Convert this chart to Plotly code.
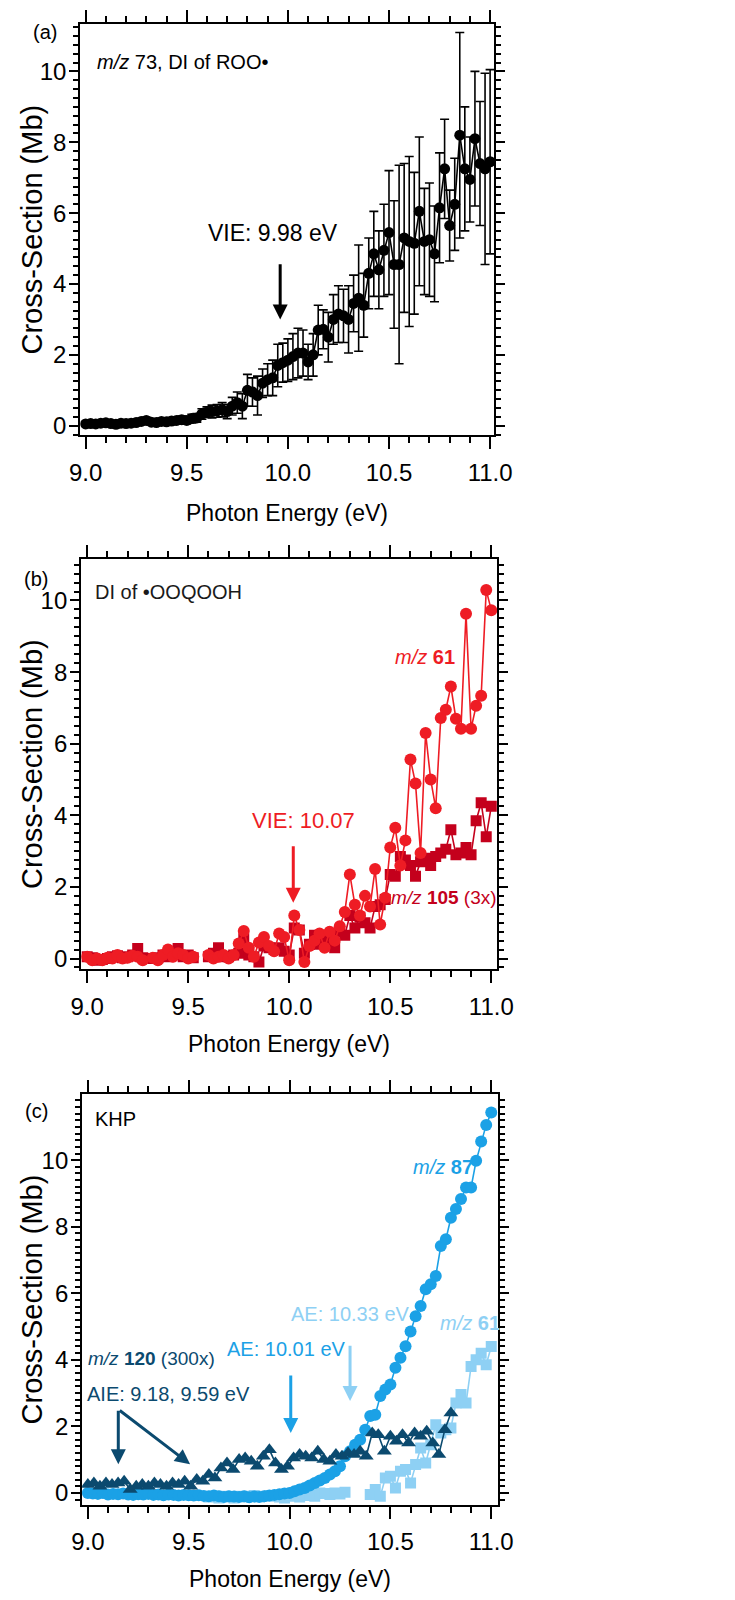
import numpy as np
import plotly.graph_objects as go

W, H = 735, 1600
FONT = "Liberation Sans, Arial, sans-serif"

# ---------------- data ----------------
# photon energy grid (eV), 0.025 eV scan step
energy = np.round(np.linspace(9.0, 11.0, 81), 3)

# (a) m/z 73, DI of ROO*
a_val = [0.05, 0.06, 0.05, 0.07, 0.08, 0.06, 0.04, 0.07, 0.06, 0.07,
         0.09, 0.12, 0.15, 0.10, 0.09, 0.12, 0.11, 0.13, 0.15, 0.17,
         0.15, 0.20, 0.22, 0.33, 0.38, 0.40, 0.42, 0.45, 0.40, 0.55,
         0.65, 0.55, 1.00, 0.95, 0.85, 1.20, 1.30, 1.35, 1.70, 1.78,
         1.85, 1.95, 2.05, 2.05, 1.80, 2.00, 2.70, 2.72, 2.50, 3.00,
         3.15, 3.10, 3.00, 3.45, 3.60, 3.40, 4.30, 4.85, 4.40, 4.95,
         5.45, 4.55, 4.55, 5.30, 5.20, 5.15, 6.05, 5.20, 5.25, 4.85,
         6.15, 7.25, 5.65, 6.25, 8.20, 7.25, 6.95, 8.10, 7.40, 7.25,
         7.45]
a_err = [0.06, 0.06, 0.06, 0.06, 0.07, 0.06, 0.06, 0.07, 0.07, 0.07,
         0.08, 0.08, 0.09, 0.08, 0.08, 0.09, 0.09, 0.10, 0.10, 0.10,
         0.10, 0.12, 0.12, 0.15, 0.15, 0.18, 0.18, 0.20, 0.20, 0.25,
         0.30, 0.35, 0.45, 0.40, 0.55, 0.40, 0.45, 0.50, 0.60, 0.55,
         0.60, 0.65, 0.70, 0.65, 0.50, 0.60, 0.70, 0.55, 0.70, 0.70,
         0.80, 0.75, 0.95, 0.80, 1.50, 0.90, 1.00, 1.20, 1.10, 1.30,
         1.75, 1.80, 2.80, 2.10, 2.40, 2.00, 2.10, 1.50, 1.60, 1.35,
         1.55, 1.40, 1.00, 1.30, 2.90, 1.75, 1.20, 1.90, 1.75, 2.70,
         2.60]

# (b) DI of *OOQOOH : m/z 61 and m/z 105 (3x)
b_m61 = [0.05, -0.05, 0.0, -0.05, 0.02, 0.0, 0.10, 0.0, 0.02, 0.08,
         0.05, -0.05, None, 0.02, -0.05, 0.10, 0.25, 0.05, 0.15, 0.10,
         0.0, 0.05, None, None, 0.10, 0.0, 0.05, 0.10, 0.0, 0.10,
         0.42, 0.77, 0.30, 0.05, 0.45, 0.60, 0.35, 0.20, 0.70, 0.60,
         -0.05, 1.20, 0.80, -0.10, 0.35, 0.50, 0.70, 0.30, 0.75, 0.50,
         0.90, 1.30, 2.35, 1.50, 1.20, 1.75, 1.45, 2.50, 0.95, 1.70,
         3.10, 3.65, 2.60, 3.30, 5.56, 4.89, 2.95, 6.30, 5.00, 4.20,
         6.72, 6.95, 7.60, 6.70, 6.42, 9.63, 6.42, 7.06, 7.34, 10.29,
         9.73]
b_m105 = [0.05, 0.02, -0.05, -0.03, 0.0, 0.05, 0.08, 0.02, 0.05, 0.10,
          0.28, 0.02, None, 0.0, 0.02, 0.10, 0.05, 0.15, 0.28, 0.05,
          0.10, 0.02, None, None, 0.05, 0.15, 0.30, 0.05, 0.05, 0.10,
          0.15, 0.55, 0.10, 0.05, -0.10, 0.35, 0.30, 0.25, 0.30, 0.20,
          0.10, 0.85, 0.80, 0.15, 0.40, 0.65, 0.40, 0.55, 0.45, 0.30,
          0.75, 0.65, 1.20, 0.85, 1.15, 1.00, 0.85, 1.45, 1.50, 1.65,
          2.35, 2.30, 2.85, 2.75, 2.60, 2.30, 2.70, 2.80, 2.60, 2.85,
          2.95, 3.05, 3.60, 2.90, 2.95, 3.10, 2.90, 3.85, 4.35, 3.40,
          4.25]

# (c) KHP : m/z 87, m/z 61, m/z 120 (300x)
c_m87 = [0.0, -0.02, -0.03, 0.0, -0.05, -0.03, -0.04, -0.02, -0.05, -0.06,
         -0.04, -0.05, -0.03, -0.06, -0.05, -0.07, -0.05, -0.06, -0.08, -0.06,
         -0.07, -0.08, -0.07, -0.09, -0.10, -0.08, -0.10, -0.12, -0.10, -0.11,
         -0.12, -0.10, -0.13, -0.11, -0.12, -0.10, -0.08, -0.06, -0.04, -0.02,
         0.0, 0.05, 0.10, 0.15, 0.22, 0.30, 0.37, 0.45, 0.55, 0.65,
         0.80, 1.10, 1.25, 1.45, 1.60, 1.90, 2.31, 2.35, 2.91, 3.11,
         3.26, 3.76, 4.06, 4.41, 4.85, 5.31, 5.62, 6.12, 6.27, 6.52,
         7.42, 7.62, 8.27, 8.53, 8.83, 9.18, 9.18, 9.98, 10.56, 11.06,
         11.43]
energy_c61 = np.round(np.linspace(9.6, 11.0, 57), 3)
c_m61 = [-0.12, -0.10, -0.15, -0.10, -0.12, -0.15, -0.10, -0.12, -0.10, -0.08,
         -0.12, -0.10, -0.08, -0.10, -0.12, -0.15, -0.10, -0.05, -0.12, -0.08,
         -0.05, -0.10, 0.0, -0.02, -0.05, 0.0, -0.03, 0.02,
         None, None, None, None,
         -0.05, 0.10, -0.10, 0.45, 0.50, 0.15, 0.65, 0.70, 0.30, 0.85,
         1.35, 0.90, 1.45, 2.05, 1.80, 1.90, 1.95, 2.70, 2.96, 2.70,
         3.80, 4.00, 4.20, 3.85, 4.40]
energy_c120 = np.round(np.linspace(9.0, 10.8, 61), 3)
c_m120 = [0.25, 0.30, 0.20, 0.30, 0.25, 0.30, 0.35, 0.10, 0.20, 0.25,
          0.20, 0.30, 0.25, 0.20, 0.30, 0.25, 0.35, 0.20, 0.40, 0.35,
          0.55, 0.45, 0.75, 0.90, 0.70, 1.00, 1.05, 0.95, 0.80, 1.10,
          1.30, 0.90, 0.70, 0.80, 1.05, 1.15, 1.10, 1.05, 1.25, 1.00,
          0.95, 1.15, 1.10, 1.20, 1.15, 1.25, 1.10, 1.80, 1.75, 1.25,
          1.70, 1.55, 1.75, 1.50, 1.80, 1.70, 1.85, 1.50, 1.15, 1.90,
          2.40]

# ---------------- colours ----------------
BLACK = "#000000"
RED = "#ee1c24"
DARKRED = "#c4001c"
BLUE = "#1ba1e6"
LIGHTBLUE = "#8ed0f4"
NAVY = "#0b4a6f"

fig = go.Figure()

def add(x, y, xa, ya, color, symbol, size, err=None):
    tr = go.Scatter(x=x, y=y, mode="lines+markers", xaxis=xa, yaxis=ya,
                    line=dict(color=color, width=1.6),
                    marker=dict(symbol=symbol, size=size, color=color, line=dict(width=0)),
                    connectgaps=False, showlegend=False, hoverinfo="skip")
    if err is not None:
        tr.error_y = dict(type="data", array=err, color=color, thickness=1.6, width=4.5)
    fig.add_trace(tr)

add(energy, a_val, "x", "y", BLACK, "circle", 11, a_err)
add(energy, b_m105, "x2", "y2", DARKRED, "square", 11)
add(energy, b_m61, "x2", "y2", RED, "circle", 12)
add(energy_c61, c_m61, "x3", "y3", LIGHTBLUE, "square", 11)
add(energy, c_m87, "x3", "y3", BLUE, "circle", 12)
add(energy_c120, c_m120, "x3", "y3", NAVY, "triangle-up", 13)

# ---------------- axes ----------------
panels = [  # (x px left,right), (y px top,bottom), xrange, yrange, minor y step
    ((72, 503), (24, 436), [8.973, 11.020], [-0.26, 11.34], 0.25),
    ((73, 506), (560, 971.7), [8.970, 11.0285], [-0.30, 11.17], 0.25),
    ((74, 506.7), (1096.7, 1508.3), [8.9715, 11.032], [-0.35, 11.99], 0.2),
]

layout = dict(width=W, height=H, margin=dict(l=0, r=0, t=0, b=0),
              paper_bgcolor="white", plot_bgcolor="white",
              font=dict(family=FONT, color="black"), showlegend=False)
annotations = []
for i, (xp, yp, xr, yr, ymin) in enumerate(panels):
    sfx = "" if i == 0 else str(i + 1)
    dom_x = [xp[0] / W, xp[1] / W]
    dom_y = [1 - yp[1] / H, 1 - yp[0] / H]
    layout["xaxis" + sfx] = dict(
        domain=dom_x, range=xr, anchor="y" + sfx, tick0=9, dtick=0.5, tickformat=".1f",
        showline=True, linecolor="black", linewidth=2, mirror="allticks",
        ticks="outside", ticklen=12, tickwidth=2, tickcolor="black",
        minor=dict(tick0=9, dtick=0.1, ticks="outside", ticklen=6, tickwidth=1.5,
                   tickcolor="black", showgrid=False),
        showgrid=False, zeroline=False, ticklabelstandoff=3,
        tickfont=dict(family=FONT, size=24, color="black"))
    layout["yaxis" + sfx] = dict(
        domain=dom_y, range=yr, anchor="x" + sfx, tick0=0, dtick=2,
        showline=True, linecolor="black", linewidth=2, mirror="allticks",
        ticks="outside", ticklen=9, tickwidth=2, tickcolor="black",
        minor=dict(tick0=0, dtick=ymin, ticks="outside", ticklen=5, tickwidth=1.5,
                   tickcolor="black", showgrid=False),
        showgrid=False, zeroline=False, ticklabelstandoff=-2,
        tickfont=dict(family=FONT, size=24, color="black"))
    # axis titles
    annotations.append(dict(text="Photon Energy (eV)", xref="paper", yref="paper",
                            x=(xp[0] + xp[1]) / 2 / W, y=1 - ([514, 1047, 1583][i]) / H,
                            xanchor="center", yanchor="middle", showarrow=False,
                            font=dict(family=FONT, size=23, color="black")))
    annotations.append(dict(text="Cross-Section (Mb)", xref="paper", yref="paper",
                            x=22 / W, y=1 - (yp[0] + yp[1]) / 2 / H, textangle=-90,
                            xanchor="center", yanchor="middle", showarrow=False,
                            font=dict(family=FONT, size=29, color="black")))


def txt(text, px, py, size, color, anchor="left"):
    annotations.append(dict(text=text, xref="paper", yref="paper", x=px / W, y=1 - py / H,
                            xanchor=anchor, yanchor="middle", showarrow=False,
                            font=dict(family=FONT, size=size, color=color)))


def arrow(xa, ya, x0, y0, x1, y1, color):
    annotations.append(dict(text="", xref=xa, yref=ya, axref=xa, ayref=ya,
                            x=x1, y=y1, ax=x0, ay=y0, showarrow=True,
                            arrowhead=2, arrowsize=1.0, arrowwidth=3, arrowcolor=color,
                            standoff=0, startstandoff=0))


# panel (a)
txt("(a)", 35, 32, 20, "black", "center")
txt("<i>m/z</i> 73, DI of ROO•", 87, 62, 20, "black")
txt("VIE: 9.98 eV", 273, 234, 23, "black", "center")
arrow("x", "y", 9.962, 4.6, 9.962, 3.0, BLACK)

# panel (b)
txt("(b)", 26, 580, 20, "black", "center")
txt("DI of •OOQOOH", 85, 593, 20, "#1a1a1a")
txt("<i>m/z</i> <b>61</b>", 398, 659, 20, RED, "left")
txt("VIE: 10.07", 304, 823, 22, RED, "center")
arrow("x2", "y2", 10.02, 3.18, 10.02, 1.56, RED)
txt("<i>m/z</i> <b>105</b> (3x)", 394, 900, 19, DARKRED, "left")

# panel (c)
txt("(c)", 27, 1114, 20, "black", "center")
txt("KHP", 85, 1122, 20, "black")
txt("<i>m/z</i> <b>87</b>", 416, 1170, 20, BLUE, "left")
txt("<i>m/z</i> <b>61</b>", 445, 1326, 20, LIGHTBLUE, "left")
txt("AE: 10.33 eV", 289, 1317, 20, LIGHTBLUE, "left")
txt("AE: 10.01 eV", 223, 1352, 20, BLUE, "left")
arrow("x3", "y3", 10.30, 4.47, 10.30, 2.76, LIGHTBLUE)
arrow("x3", "y3", 10.006, 3.57, 10.006, 1.80, BLUE)
txt("<i>m/z</i> <b>120</b> (300x)", 78, 1362, 19, NAVY)
txt("AIE: 9.18, 9.59 eV", 77, 1397, 20, NAVY)
arrow("x3", "y3", 9.151, 2.51, 9.151, 0.86, NAVY)
arrow("x3", "y3", 9.151, 2.51, 9.507, 0.86, NAVY)

layout["annotations"] = annotations
fig.update_layout(**layout)
fig.write_html("out.html")
